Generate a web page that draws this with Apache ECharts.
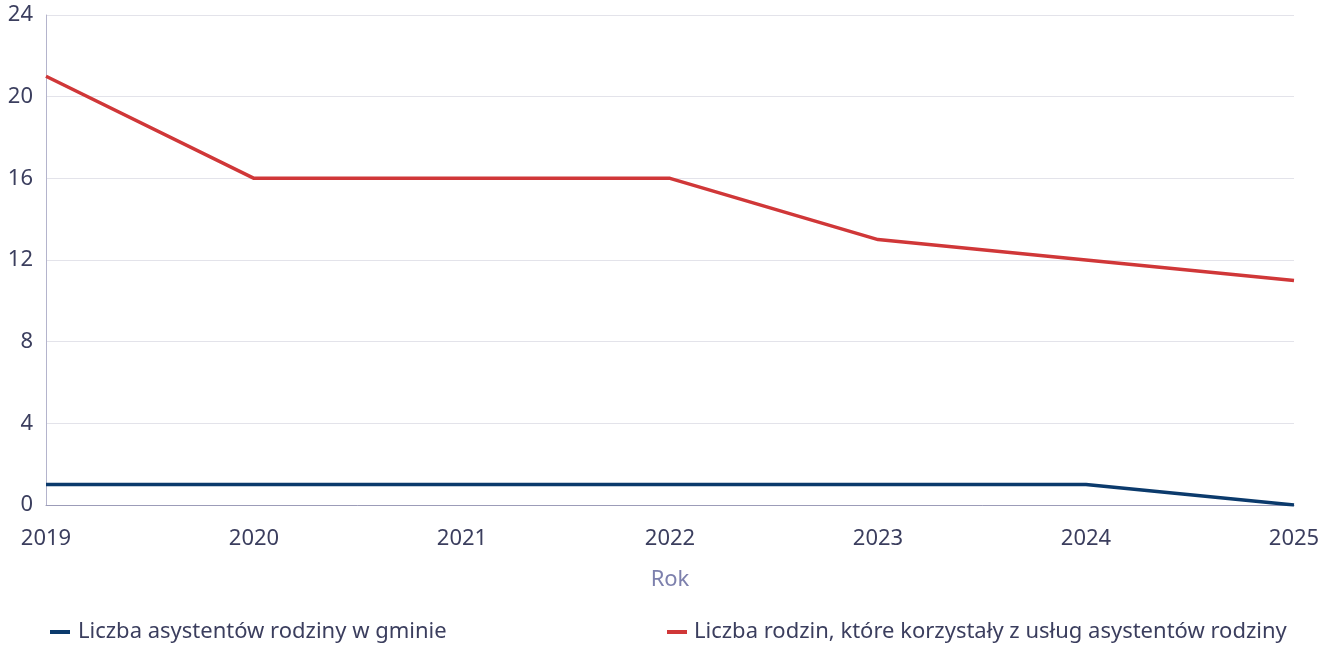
<!DOCTYPE html>
<html><head><meta charset="utf-8">
<script src="https://cdn.jsdelivr.net/npm/echarts@6/dist/echarts.min.js"></script>
<style>html,body{margin:0;padding:0;background:#fff}#c{width:1329px;height:645px}</style>
</head><body><div id="c"></div>
<script>
const years = ['2019','2020','2021','2022','2023','2024','2025'];
const asystenci = [1,1,1,1,1,1,0];
const rodziny = [21,16,16,16,13,12,11];
const seriesNames = ['Liczba asystentów rodziny w gminie','Liczba rodzin, które korzystały z usług asystentów rodziny'];
const xName = 'Rok';

const font = 'Noto Sans';
const textColor = '#3b3e5e';
const chart = echarts.init(document.getElementById('c'));
chart.setOption({
  animation:false,
  textStyle:{fontFamily:font},
  grid:{left:46,right:35,top:15,bottom:140,containLabel:false},
  legend:[
    {data:[seriesNames[0]],left:50,top:621,padding:0,icon:'rect',itemWidth:20,itemHeight:4,itemGap:10,
     textStyle:{fontFamily:font,fontSize:22,color:textColor,padding:[0,0,0,3]}},
    {data:[seriesNames[1]],left:667,top:621,padding:0,icon:'rect',itemWidth:20,itemHeight:4,itemGap:10,
     textStyle:{fontFamily:font,fontSize:22,color:textColor,padding:[0,0,0,2]}}
  ],
  xAxis:{type:'category',data:years,boundaryGap:false,name:xName,nameLocation:'middle',nameGap:64,
    nameTextStyle:{fontFamily:font,fontSize:22,color:'#7d80ad'},
    axisLine:{lineStyle:{color:'#9c9cb8',width:1}},axisTick:{show:false},
    axisLabel:{fontFamily:font,fontSize:22,color:textColor,margin:23},
    splitLine:{show:false}},
  yAxis:{type:'value',min:0,max:24,interval:4,
    axisLine:{show:true,lineStyle:{color:'#b4b4cc',width:1}},axisTick:{show:false},
    axisLabel:{fontFamily:font,fontSize:22,color:textColor,margin:13,padding:[2,0,0,0]},
    splitLine:{lineStyle:{color:'#e3e3ea',width:1}}},
  series:[
    {name:seriesNames[0],type:'line',data:asystenci,symbol:'none',color:'#0b3a6c',lineStyle:{width:3.5,color:'#0b3a6c'}},
    {name:seriesNames[1],type:'line',data:rodziny,symbol:'none',color:'#d03738',lineStyle:{width:3.5,color:'#d03738'}}
  ]
});
</script></body></html>
